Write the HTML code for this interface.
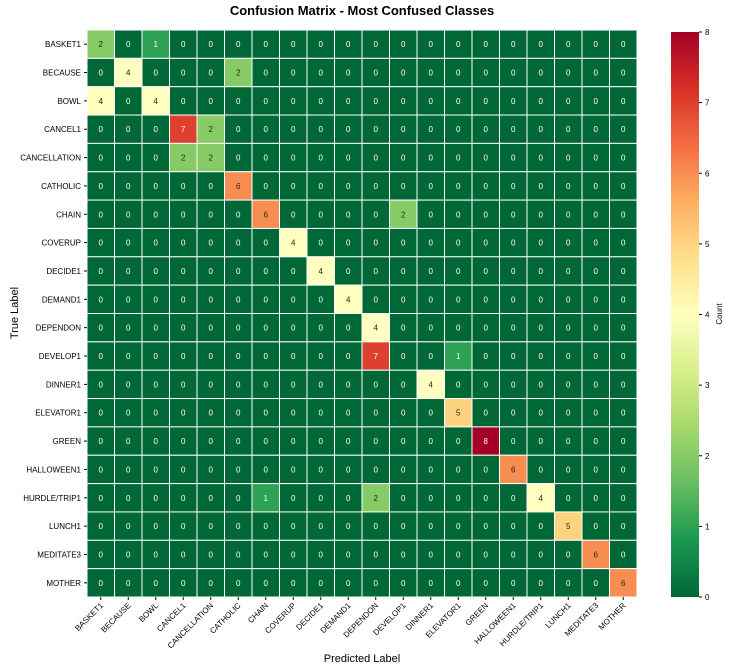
<!DOCTYPE html>
<html><head><meta charset="utf-8"><style>body{margin:0;background:#fff}svg{display:block;font-family:"Liberation Sans","DejaVu Sans",sans-serif}</style></head>
<body>
<svg id="c" width="738" height="669">
<defs><linearGradient id="g" x1="0" y1="1" x2="0" y2="0">
<stop offset="0" stop-color="#006837"/><stop offset="0.1" stop-color="#1a9850"/><stop offset="0.2" stop-color="#66bd63"/><stop offset="0.3" stop-color="#a6d96a"/><stop offset="0.4" stop-color="#d9ef8b"/><stop offset="0.5" stop-color="#ffffbf"/><stop offset="0.6" stop-color="#fee08b"/><stop offset="0.7" stop-color="#fdae61"/><stop offset="0.8" stop-color="#f46d43"/><stop offset="0.9" stop-color="#d73027"/><stop offset="1" stop-color="#a50026"/></linearGradient></defs>
<text x="362" y="15" text-anchor="middle" font-size="13" font-weight="bold">Confusion Matrix - Most Confused Classes</text>
<g id="cells"></g>
<text x="362" y="662" text-anchor="middle" font-size="11">Predicted Label</text>
<text transform="translate(18,313) rotate(-90)" text-anchor="middle" font-size="11">True Label</text>
<rect x="671" y="32" width="28" height="565" fill="url(#g)"/>
<text transform="translate(722,314) rotate(-90)" text-anchor="middle" font-size="8">Count</text>
</svg>
<script>
const labels=["BASKET1","BECAUSE","BOWL","CANCEL1","CANCELLATION","CATHOLIC","CHAIN","COVERUP","DECIDE1","DEMAND1","DEPENDON","DEVELOP1","DINNER1","ELEVATOR1","GREEN","HALLOWEEN1","HURDLE/TRIP1","LUNCH1","MEDITATE3","MOTHER"];
const diag=[2,4,4,7,2,6,6,4,4,4,4,0,4,5,8,6,4,5,6,6];
const offDiag=[[0,2,1],[1,5,2],[2,0,4],[3,4,2],[4,3,2],[6,11,2],[11,10,7],[11,13,1],[16,6,1],[16,10,2]];
const cbTicks=[0,1,2,3,4,5,6,7,8];
const vmax=8;
const L=87,T=30,W=550,H=567,n=labels.length,cw=W/n,ch=H/n;
const CB={x:671,y:32,h:565};
const stops=["#006837","#1a9850","#66bd63","#a6d96a","#d9ef8b","#ffffbf","#fee08b","#fdae61","#f46d43","#d73027","#a50026"];
function col(v){const t=v/vmax*10,i=Math.min(9,Math.floor(t)),f=t-i;const a=stops[i],b=stops[i+1];const p=k=>parseInt(a.substr(k,2),16)*(1-f)+parseInt(b.substr(k,2),16)*f;return `rgb(${p(1)|0},${p(3)|0},${p(5)|0})`;}
const M=labels.map(()=>labels.map(()=>0));
diag.forEach((v,i)=>M[i][i]=v);
offDiag.forEach(([r,c,v])=>M[r][c]=v);
const ns="http://www.w3.org/2000/svg",g=document.getElementById('cells'),svg=document.getElementById('c');
function el(t,a,p){const e=document.createElementNS(ns,t);for(const k in a)e.setAttribute(k,a[k]);(p||g).appendChild(e);return e;}
for(let r=0;r<n;r++)for(let c=0;c<n;c++){const v=M[r][c];
const rc=el('rect',{x:L+c*cw,y:T+r*ch,width:cw,height:ch,fill:col(v),stroke:'#fff','stroke-width':1});


const tx=el('text',{x:L+(c+.5)*cw,y:T+(r+.5)*ch+3,'text-anchor':'middle','font-size':8,fill:(v<=1.5||v>=6.5)?'#fff':'#262626'});tx.textContent=v;

}
labels.forEach((lb,i)=>{
const y=T+(i+.5)*ch;el('line',{x1:L-3,x2:L,y1:y,y2:y,stroke:'#000'});
const t=el('text',{x:L-6,y:y+3,'text-anchor':'end','font-size':8});t.textContent=lb;


const x=L+(i+.5)*cw;el('line',{x1:x,x2:x,y1:T+H,y2:T+H+3,stroke:'#000'});
const u=el('text',{transform:`translate(${x+3},${T+H+9}) rotate(-45)`,'text-anchor':'end','font-size':8});u.textContent=lb;

});
cbTicks.forEach(v=>{const y=CB.y+CB.h*(1-v/vmax);el('line',{x1:699,x2:702,y1:y,y2:y,stroke:'#000'},svg);
const t=el('text',{x:705,y:y+3,'font-size':8},svg);t.textContent=v;

});
</script>
</body></html>
